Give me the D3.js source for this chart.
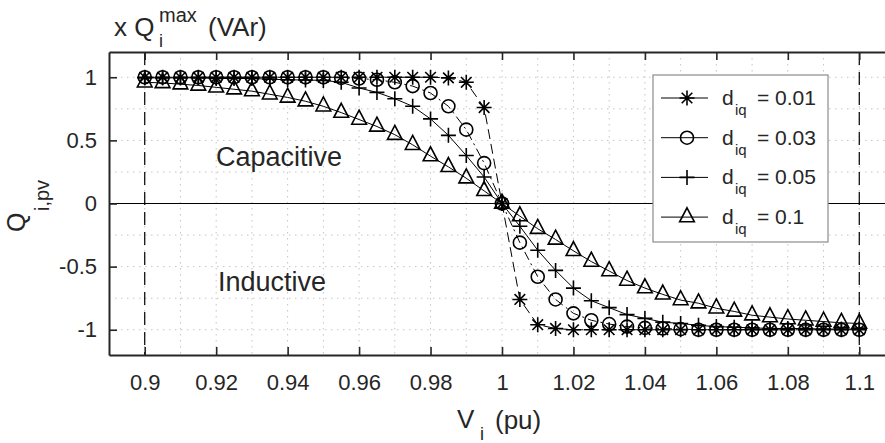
<!DOCTYPE html>
<html>
<head>
<meta charset="utf-8">
<script src="https://cdn.jsdelivr.net/npm/d3@7"></script>
<style>
  body { margin: 0; background: #fff; }
  text { font-family: "Liberation Sans", Arial, sans-serif; fill: #262626; }
</style>
</head>
<body>
<div id="chart"></div>
<script>
// voltage points (pu)
const voltage = [0.9, 0.905, 0.91, 0.915, 0.92, 0.925, 0.93, 0.935, 0.94, 0.945,
                 0.95, 0.955, 0.96, 0.965, 0.97, 0.975, 0.98, 0.985, 0.99, 0.995,
                 1.0,
                 1.005, 1.01, 1.015, 1.02, 1.025, 1.03, 1.035, 1.04, 1.045, 1.05,
                 1.055, 1.06, 1.065, 1.07, 1.075, 1.08, 1.085, 1.09, 1.095, 1.1];

// Q (x Qmax) for each droop value
const qD001 = [1, 1, 1, 1, 1, 1, 1, 1, 1, 1,
               1, 1, 1, 1, 1, 1, 1, 0.995, 0.96, 0.76,
               0,
               -0.76, -0.96, -0.99, -1, -1, -1, -1, -1, -1, -1,
               -1, -1, -1, -1, -1, -1, -1, -1, -1, -1];
const qD003 = [1, 1, 1, 1, 1, 1, 1, 1, 1, 1,
               1, 0.995, 0.99, 0.98, 0.96, 0.93, 0.875, 0.77, 0.585, 0.32,
               0,
               -0.31, -0.58, -0.76, -0.87, -0.925, -0.955, -0.975, -0.985, -0.99, -0.995,
               -1, -1, -1, -1, -1, -1, -1, -1, -1, -1];
const qD005 = [0.995, 0.995, 0.995, 0.995, 0.99, 0.99, 0.99, 0.985, 0.98, 0.978,
               0.975, 0.96, 0.915, 0.88, 0.83, 0.77, 0.67, 0.54, 0.38, 0.21,
               0,
               -0.18, -0.37, -0.53, -0.67, -0.77, -0.825, -0.88, -0.91, -0.94, -0.95,
               -0.965, -0.975, -0.98, -0.985, -0.99, -0.99, -0.99, -0.995, -0.995, -0.995];
const qD01 = [0.96, 0.955, 0.945, 0.935, 0.92, 0.905, 0.89, 0.865, 0.84, 0.81,
              0.77, 0.72, 0.665, 0.61, 0.545, 0.465, 0.375, 0.29, 0.2, 0.1,
              0,
              -0.1, -0.2, -0.285, -0.375, -0.46, -0.535, -0.61, -0.67, -0.72, -0.765,
              -0.79, -0.83, -0.855, -0.885, -0.9, -0.915, -0.925, -0.935, -0.945, -0.95];

const droopLabels = ["0.01", "0.03", "0.05", "0.1"];
const xTicks = [0.9, 0.92, 0.94, 0.96, 0.98, 1, 1.02, 1.04, 1.06, 1.08, 1.1];
const yTicks = [-1, -0.5, 0, 0.5, 1];
const xGrid = [0.9, 0.91, 0.92, 0.93, 0.94, 0.95, 0.96, 0.97, 0.98, 0.99, 1,
               1.01, 1.02, 1.03, 1.04, 1.05, 1.06, 1.07, 1.08, 1.09, 1.1];
const yGrid = [-1, -0.75, -0.5, -0.25, 0.25, 0.5, 0.75, 1];
const vLimits = [0.9, 1.1];

const W = 885, H = 443;
const x = d3.scaleLinear().domain([0.89, 1.11]).range([109, 895]);
const y = d3.scaleLinear().domain([-1.2, 1.2]).range([355, 52]);

const svg = d3.select("#chart").append("svg")
    .attr("width", W).attr("height", H);

// grid
svg.append("g").selectAll("line").data(xGrid).join("line")
    .attr("x1", d => x(d)).attr("x2", d => x(d))
    .attr("y1", y(1.2)).attr("y2", y(-1.2))
    .attr("stroke", "#c4c4c4").attr("stroke-width", 1)
    .attr("stroke-dasharray", "1.5,4.5");
svg.append("g").selectAll("line").data(yGrid).join("line")
    .attr("x1", x(0.89)).attr("x2", x(1.11))
    .attr("y1", d => y(d)).attr("y2", d => y(d))
    .attr("stroke", "#c4c4c4").attr("stroke-width", 1)
    .attr("stroke-dasharray", "1.5,4.5");

// zero line
svg.append("line")
    .attr("x1", x(0.89)).attr("x2", x(1.11))
    .attr("y1", y(0)).attr("y2", y(0))
    .attr("stroke", "#000").attr("stroke-width", 1.2);

// voltage limits
svg.append("g").selectAll("line").data(vLimits).join("line")
    .attr("x1", d => x(d)).attr("x2", d => x(d))
    .attr("y1", y(1.2)).attr("y2", y(-1.2))
    .attr("stroke", "#000").attr("stroke-width", 1.2)
    .attr("stroke-dasharray", "13,7");

// markers
function asterisk(r) {
  const d = r * Math.SQRT1_2;
  return `M${-r},0H${r}M0,${-r}V${r}M${-d},${-d}L${d},${d}M${-d},${d}L${d},${-d}`;
}
function plus(r) { return `M${-r},0H${r}M0,${-r}V${r}`; }
function circle(r) { return `M${r},0A${r},${r} 0 1,1 ${-r},0A${r},${r} 0 1,1 ${r},0Z`; }
function triangle(r) {
  const h = 2 * r, w = r * 1.05;
  return `M0,${-h * 2 / 3}L${w},${h / 3}L${-w},${h / 3}Z`;
}

const series = [
  {values: qD001, marker: asterisk, size: 7.5, dash: "10,5"},
  {values: qD003, marker: circle, size: 6.5, dash: "9,4,2,4"},
  {values: qD005, marker: plus, size: 7.5, dash: null},
  {values: qD01, marker: triangle, size: 7, dash: null}
];

const line = d3.line().x(d => x(d[0])).y(d => y(d[1]));

series.forEach(s => {
  const pts = voltage.map((v, i) => [v, s.values[i]]);
  const g = svg.append("g");
  g.append("path").datum(pts)
      .attr("d", line)
      .attr("fill", "none").attr("stroke", "#000").attr("stroke-width", 1)
      .attr("stroke-dasharray", s.dash);
  g.selectAll("path.m").data(pts).join("path")
      .attr("class", "m")
      .attr("transform", d => `translate(${x(d[0])},${y(d[1])})`)
      .attr("d", s.marker(s.size))
      .attr("fill", "none").attr("stroke", "#000").attr("stroke-width", 1.6);
});

// axes (plain hyphen for negatives, like the original)
const fmt = d => String(d);
const xAxis = svg.append("g").attr("transform", `translate(0,${y(-1.2)})`)
    .call(d3.axisBottom(x).tickValues(xTicks).tickSize(-8).tickSizeOuter(0)
      .tickPadding(19).tickFormat(fmt));
const xTop = svg.append("g").attr("transform", `translate(0,${y(1.2)})`)
    .call(d3.axisTop(x).tickValues(xTicks).tickSize(-8).tickSizeOuter(0).tickFormat(""));
const yAxis = svg.append("g").attr("transform", `translate(${x(0.89)},0)`)
    .call(d3.axisLeft(y).tickValues(yTicks).tickSize(-8).tickSizeOuter(0)
      .tickPadding(12).tickFormat(fmt));

[xAxis, xTop, yAxis].forEach(a => {
  a.select(".domain").attr("stroke", "#262626").attr("stroke-width", 2);
  a.selectAll(".tick line").attr("stroke", "#262626").attr("stroke-width", 1.6);
  a.selectAll(".tick text").attr("font-size", 22).attr("fill", "#262626")
      .style("font-family", "'Liberation Sans', Arial, sans-serif");
});

// region labels
svg.append("text").attr("x", 216).attr("y", 166).attr("font-size", 27).text("Capacitive");
svg.append("text").attr("x", 218).attr("y", 291).attr("font-size", 27).text("Inductive");

// title (unit)
svg.append("text").attr("x", 114).attr("y", 36).attr("font-size", 26).text("x Q");
svg.append("text").attr("x", 159).attr("y", 22).attr("font-size", 20).text("max");
svg.append("text").attr("x", 159).attr("y", 47).attr("font-size", 18).text("i");
svg.append("text").attr("x", 208).attr("y", 36).attr("font-size", 26).text("(VAr)");

// x label
svg.append("text").attr("x", 457).attr("y", 428).attr("font-size", 26).text("V");
svg.append("text").attr("x", 480).attr("y", 440).attr("font-size", 18).text("i");
svg.append("text").attr("x", 495).attr("y", 429).attr("font-size", 26).text("(pu)");

// y label
svg.append("text").attr("transform", "translate(25,232) rotate(-90)")
    .attr("font-size", 25).text("Q");
svg.append("text").attr("transform", "translate(49,211) rotate(-90)")
    .attr("font-size", 20).text("i,pv");

// legend
const lg = svg.append("g");
lg.append("rect").attr("x", 653).attr("y", 75).attr("width", 175).attr("height", 167)
    .attr("fill", "#fff").attr("stroke", "#8c8c8c").attr("stroke-width", 1.2);
droopLabels.forEach((lab, i) => {
  const cy = 98 + i * 39.7;
  const s = series[i];
  lg.append("line").attr("x1", 661).attr("x2", 708).attr("y1", cy).attr("y2", cy)
      .attr("stroke", "#000").attr("stroke-width", 1);
  lg.append("path").attr("transform", `translate(687,${cy})`)
      .attr("d", s.marker(s.size)).attr("fill", "none")
      .attr("stroke", "#000").attr("stroke-width", 1.6);
  lg.append("text").attr("x", 722).attr("y", cy + 7).attr("font-size", 21).text("d");
  lg.append("text").attr("x", 735).attr("y", cy + 17).attr("font-size", 15).text("iq");
  lg.append("text").attr("x", 757).attr("y", cy + 7).attr("font-size", 21).text("= " + lab);
});
</script>
</body>
</html>
